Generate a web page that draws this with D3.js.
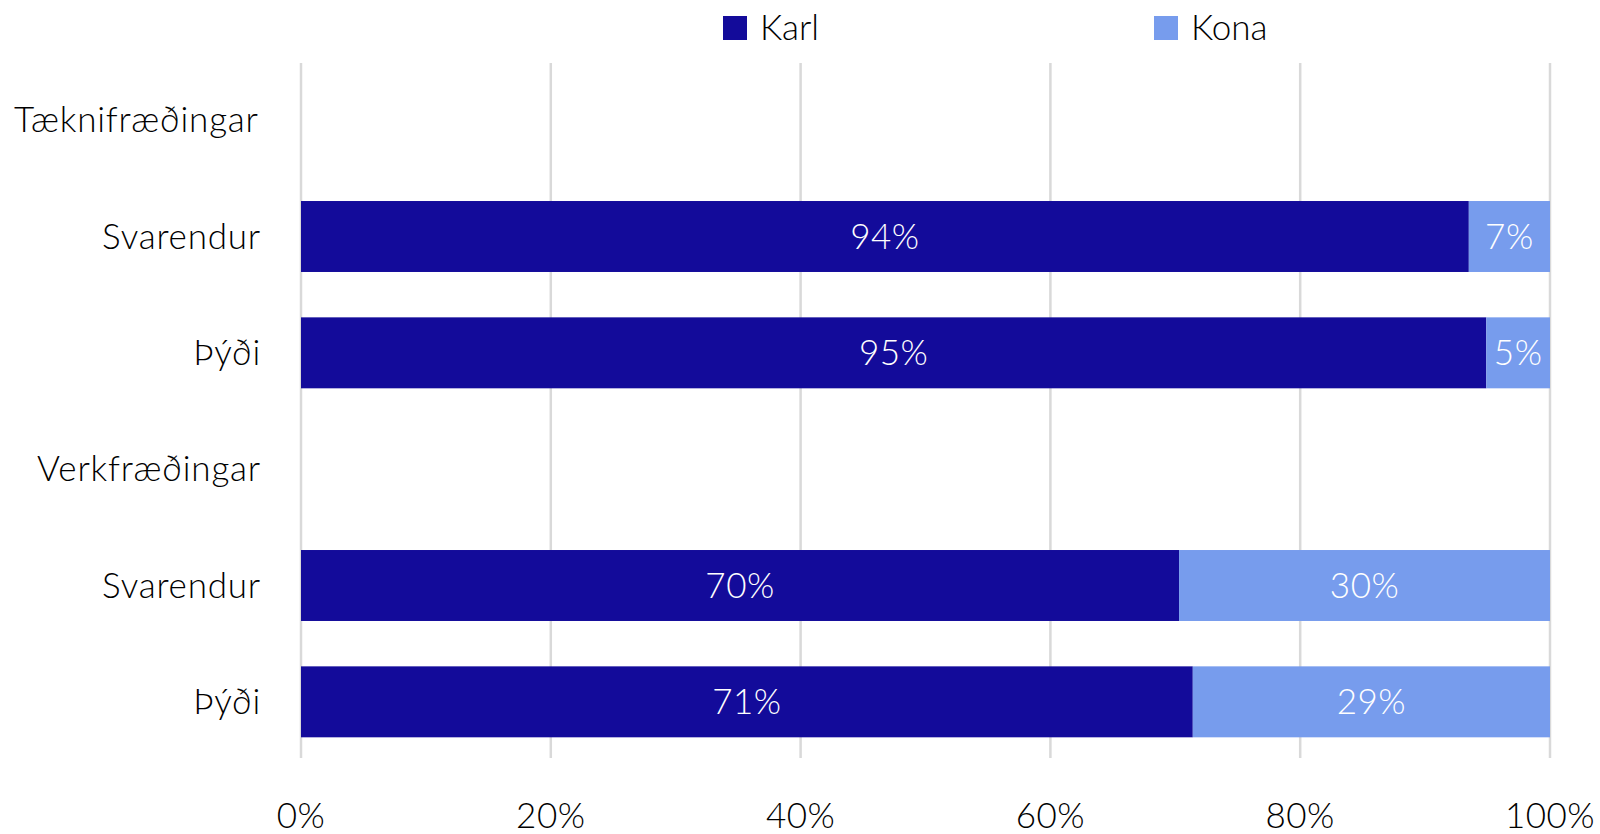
<!DOCTYPE html>
<html>
<head>
<meta charset="utf-8">
<script src="https://cdn.jsdelivr.net/npm/d3@7"></script>
<style>
  body { margin: 0; background: #fff; }
  text { font-family: Lato, "Open Sans", sans-serif; font-weight: 300; }
</style>
</head>
<body>
<div id="chart"></div>
<script>
// rows top to bottom; group headers have no bar
const rowLabels = ["Tæknifræðingar", "Svarendur", "Þýði", "Verkfræðingar", "Svarendur", "Þýði"];
const rowAlign = ["left", "right", "right", "right", "right", "right"];
const karlValues = [null, 93.5, 94.9, null, 70.3, 71.4];
const konaValues = [null, 6.5, 5.1, null, 29.7, 28.6];
const seriesNames = ["Karl", "Kona"];
const seriesColors = ["#130b9a", "#779ced"];
const xTicks = [0, 20, 40, 60, 80, 100];

const width = 1600, height = 834;
const fs = 35;

const svg = d3.select("#chart").append("svg")
  .attr("width", width)
  .attr("height", height);

let x = d3.scaleLinear().domain([0, 100]).range([301, 1550]);
let y = d3.scaleBand()
  .domain(d3.range(rowLabels.length))
  .range([62, 760])
  .paddingInner(0.39)
  .paddingOuter(0.195);

// gridlines
svg.append("g")
  .selectAll("line")
  .data(xTicks)
  .enter()
  .append("line")
  .attr("x1", d => x(d)).attr("x2", d => x(d))
  .attr("y1", 63).attr("y2", 758)
  .style("stroke", "#d9d9d9")
  .style("stroke-width", "2.5px");

// x tick labels
svg.append("g")
  .selectAll("text")
  .data(xTicks)
  .enter()
  .append("text")
  .attr("x", d => x(d))
  .attr("y", 816)
  .attr("dy", "0.35em")
  .attr("text-anchor", "middle")
  .attr("font-size", fs)
  .attr("letter-spacing", "0.5px")
  .attr("fill", "#000")
  .text(d => d + "%");

// row labels
svg.append("g")
  .selectAll("text")
  .data(rowLabels)
  .enter()
  .append("text")
  .attr("x", (d, i) => rowAlign[i] == "left" ? 14 : 261)
  .attr("y", (d, i) => y(i) + y.bandwidth() / 2)
  .attr("dy", "0.35em")
  .attr("text-anchor", (d, i) => rowAlign[i] == "left" ? "start" : "end")
  .attr("font-size", fs)
  .attr("letter-spacing", "0.8px")
  .attr("fill", "#000")
  .text(d => d);

// stacked segments
let segs = [];
rowLabels.forEach((lab, i) => {
  if (karlValues[i] === null) return;
  segs.push({row: i, s: 0, x0: 0, x1: karlValues[i], v: karlValues[i]});
  segs.push({row: i, s: 1, x0: karlValues[i], x1: karlValues[i] + konaValues[i], v: konaValues[i]});
});

let bars = svg.append("g");
bars.selectAll("rect")
  .data(segs)
  .enter()
  .append("rect")
  .attr("x", d => x(d.x0))
  .attr("y", d => y(d.row))
  .attr("width", d => x(d.x1) - x(d.x0))
  .attr("height", y.bandwidth())
  .attr("fill", d => seriesColors[d.s]);

bars.selectAll("text")
  .data(segs)
  .enter()
  .append("text")
  .attr("x", d => (x(d.x0) + x(d.x1)) / 2)
  .attr("y", d => y(d.row) + y.bandwidth() / 2)
  .attr("dy", "0.35em")
  .attr("text-anchor", "middle")
  .attr("font-size", fs)
  .attr("letter-spacing", "0.5px")
  .attr("fill", "#fff")
  .text(d => Math.round(d.v) + "%");

// legend
const legendX = [723, 1154];
let legend = svg.append("g")
  .selectAll("g")
  .data(seriesNames)
  .enter()
  .append("g")
  .attr("transform", (d, i) => "translate(" + legendX[i] + ",28)");
legend.append("rect")
  .attr("x", 0).attr("y", -12)
  .attr("width", 24).attr("height", 24)
  .attr("fill", (d, i) => seriesColors[i]);
legend.append("text")
  .attr("x", 37)
  .attr("dy", "0.33em")
  .attr("font-size", fs)
  .attr("fill", "#000")
  .text(d => d);
</script>
</body>
</html>
